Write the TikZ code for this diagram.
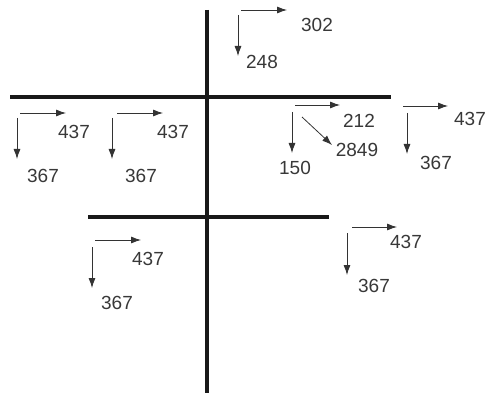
\documentclass[tikz,border=0pt]{standalone}
\usepackage{fontspec}
\setmainfont{Liberation Sans}
\usetikzlibrary{arrows.meta}
\definecolor{txt}{HTML}{383838}
\tikzset{
  beam/.style={line width=4.4pt, black!90},
  arr/.style={line width=0.8pt, black!80, -{Latex[length=10pt,width=7pt]}},
  lbl/.style={text=txt, font=\fontsize{19}{19}\selectfont, inner sep=0pt}
}
\begin{document}
\begin{tikzpicture}[x=1pt,y=-1pt]
\useasboundingbox (0,0) rectangle (488,396);
% beams
\draw[beam] (207,10) -- (207,393);
\draw[beam] (10,97) -- (391,97);
\draw[beam] (88,217) -- (329,217);
% top
\draw[arr] (241,10) -- (287,10);
\draw[arr] (238,15) -- (238,56);
\node[lbl] (t302) at (317,25) {302};
\node[lbl] (t248) at (262,62) {248};
% under top beam right
\draw[arr] (295,105) -- (340,105);
\draw[arr] (292,112) -- (292,153);
\draw[arr] (302,117) -- (332,145);
\node[lbl] (t212) at (359,121) {212};
\node[lbl] (t150) at (295,168) {150};
\node[lbl] (t2849) at (357,150) {2849};
% far right
\draw[arr] (403,106) -- (448,106);
\draw[arr] (407,113) -- (407,154);
\node[lbl] (r437) at (470,119) {437};
\node[lbl] (r367) at (436,163) {367};
% left 1
\draw[arr] (20,113) -- (66,113);
\draw[arr] (17,118) -- (17,159);
\node[lbl] (a437) at (74,132) {437};
\node[lbl] (a367) at (43,176) {367};
% left 2
\draw[arr] (117,113) -- (163,113);
\draw[arr] (112,118) -- (112,159);
\node[lbl] (b437) at (173,132) {437};
\node[lbl] (b367) at (141,176) {367};
% lower left
\draw[arr] (95,240) -- (141,240);
\draw[arr] (92,247) -- (92,288);
\node[lbl] (c437) at (148,259) {437};
\node[lbl] (c367) at (117,303) {367};
% lower right
\draw[arr] (352,227) -- (397,227);
\draw[arr] (347,233) -- (347,275);
\node[lbl] (d437) at (406,242) {437};
\node[lbl] (d367) at (374,286) {367};
\end{tikzpicture}
\end{document}
